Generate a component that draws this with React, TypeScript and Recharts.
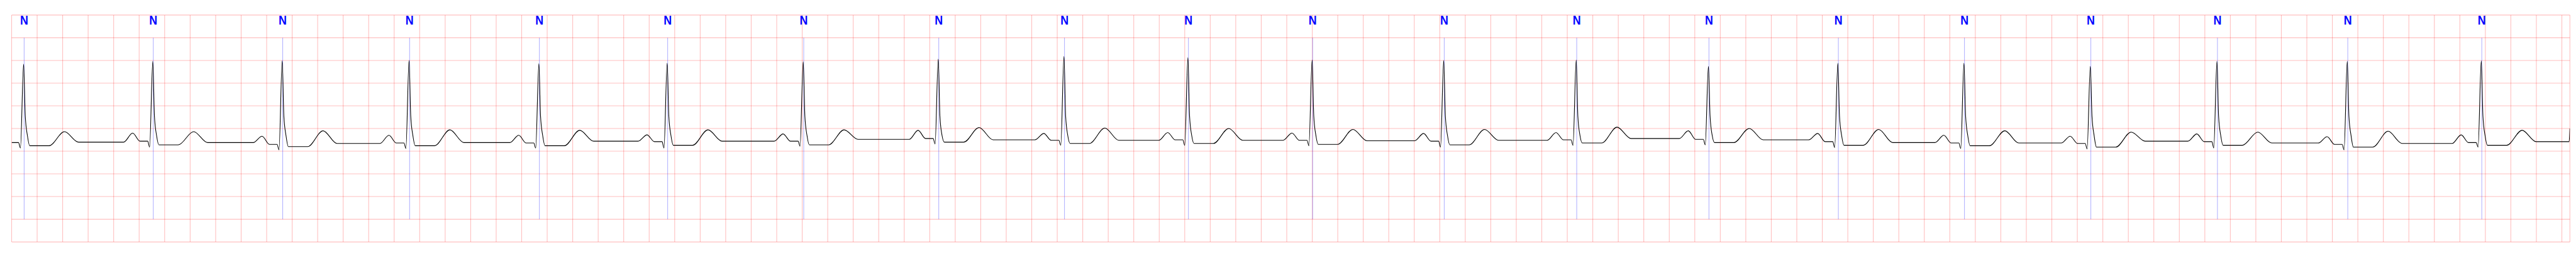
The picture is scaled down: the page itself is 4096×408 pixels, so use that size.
import {
  CartesianGrid,
  ComposedChart,
  Line,
  ReferenceLine,
  Scatter,
  XAxis,
  YAxis,
} from "recharts";

// beat annotations (seconds) and their symbols
const beatTimes = [
  0.098, 1.111, 2.126, 3.121, 4.139, 5.145, 6.212, 7.271, 8.257, 9.229,
  10.203, 11.235, 12.274, 13.311, 14.326, 15.315, 16.306, 17.299, 18.321, 19.372,
];
const beatSymbols = [
  "N", "N", "N", "N", "N", "N", "N", "N", "N", "N",
  "N", "N", "N", "N", "N", "N", "N", "N", "N", "N",
];

// per-beat levels (mV)
const rPeak = [1.42, 1.48, 1.49, 1.5, 1.43, 1.44, 1.47, 1.53, 1.59, 1.56, 1.51, 1.5, 1.51, 1.37, 1.44, 1.44, 1.37, 1.48, 1.48, 1.49];
const qDip = [-0.43, -0.41, -0.47, -0.44, -0.43, -0.43, -0.39, -0.34, -0.37, -0.37, -0.38, -0.41, -0.37, -0.36, -0.42, -0.44, -0.45, -0.43, -0.47, -0.41];
const stLevel = [-0.38, -0.36, -0.4, -0.38, -0.38, -0.37, -0.36, -0.3, -0.33, -0.33, -0.35, -0.36, -0.32, -0.31, -0.37, -0.38, -0.41, -0.37, -0.41, -0.37];
const tPeak = [-0.07, -0.07, -0.05, -0.03, -0.04, -0.03, -0.03, 0.02, 0.01, 0.0, -0.02, -0.02, 0.03, 0.0, -0.02, -0.05, -0.08, -0.08, -0.06, -0.04];
const isoLevel = [-0.3, -0.31, -0.33, -0.31, -0.28, -0.28, -0.24, -0.25, -0.26, -0.26, -0.27, -0.26, -0.22, -0.25, -0.31, -0.32, -0.28, -0.32, -0.33, -0.29];
const pPeak: (number | null)[] = [null, -0.1, -0.17, -0.15, -0.15, -0.14, -0.12, -0.04, -0.11, -0.09, -0.1, -0.11, -0.09, -0.05, -0.11, -0.15, -0.17, -0.12, -0.18, -0.14];
const preQLevel = [-0.31, -0.28, -0.35, -0.32, -0.32, -0.29, -0.28, -0.22, -0.26, -0.25, -0.26, -0.28, -0.25, -0.24, -0.29, -0.32, -0.33, -0.29, -0.35, -0.31];

// wave timing relative to the R peak (s), read from one beat
const waveOffsets = {
  r: -0.004,
  pOn: -0.228,
  pTop: -0.158,
  pEnd: -0.1,
  qOn: -0.04,
  q: -0.025,
  knee: 0.013,
  kneeLow: 0.03,
  j: 0.048,
  stEnd: 0.2,
  tTop: 0.32,
  tEnd: 0.43,
};
const kneeLevel = 0.27;
const kneeLowLevel = -0.16;

// last samples of the strip
const tailTimes = [20.057, 20.063];
const tailValues = [-0.29, 0.0];

const xTicks = Array.from({ length: 101 }, (_, i) => Math.round(i * 2) / 10);
const yTicks = [-2.5, -2, -1.5, -1, -0.5, 0, 0.5, 1, 1.5, 2];

function buildTrace() {
  const pts: { t: number; v: number }[] = [{ t: 0, v: preQLevel[0] }];
  beatTimes.forEach((ann, i) => {
    const r = ann + waveOffsets.r;
    const p = pPeak[i];
    if (p !== null) {
      pts.push(
        { t: r + waveOffsets.pOn, v: isoLevel[i - 1] },
        { t: r + waveOffsets.pTop, v: p },
        { t: r + waveOffsets.pEnd, v: preQLevel[i] }
      );
    }
    pts.push(
      { t: r + waveOffsets.qOn, v: preQLevel[i] },
      { t: r + waveOffsets.q, v: qDip[i] },
      { t: r, v: rPeak[i] },
      { t: r + waveOffsets.knee, v: kneeLevel },
      { t: r + waveOffsets.kneeLow, v: kneeLowLevel },
      { t: r + waveOffsets.j, v: stLevel[i] },
      { t: r + waveOffsets.stEnd, v: stLevel[i] },
      { t: r + waveOffsets.tTop, v: tPeak[i] },
      { t: r + waveOffsets.tEnd, v: isoLevel[i] }
    );
  });
  tailTimes.forEach((t, i) => pts.push({ t, v: tailValues[i] }));
  return pts;
}

const trace = buildTrace();
const LABEL_LEVEL = 2.296;
const labels = beatTimes.map((t, i) => ({ t, y: LABEL_LEVEL, sym: beatSymbols[i] }));

const BeatLabel = (props: any) => {
  const { cx, cy, payload } = props;
  return (
    <text
      transform={`translate(${cx},${cy}) scale(0.85,1)`}
      textAnchor="middle"
      fontFamily="'Liberation Sans', Arial, sans-serif"
      fontWeight="bold"
      fontSize={21}
      fill="#0000ff"
    >
      {payload.sym}
    </text>
  );
};

export default function App() {
  return (
    <div style={{ position: "fixed", left: 0, top: 0, background: "#fff" }}>
      <ComposedChart
        width={4096}
        height={408}
        margin={{ top: 23.9, right: 9.7, bottom: 23.9, left: 18.5 }}
      >
        <CartesianGrid
          stroke="rgba(255, 0, 0, 0.25)"
          strokeWidth={1.1}
        />
        <XAxis
          dataKey="t"
          type="number"
          domain={[0, 20.063]}
          ticks={xTicks}
          allowDataOverflow
          hide
        />
        <YAxis type="number" domain={[-2.5, 2.5]} ticks={yTicks} allowDataOverflow hide />
        {beatTimes.map((t) => (
          <ReferenceLine
            key={t}
            segment={[
              { x: t, y: -2 },
              { x: t, y: 2 },
            ]}
            stroke="#0000ff"
            strokeOpacity={0.55}
            strokeWidth={0.6}
          />
        ))}
        <Line
          data={trace}
          dataKey="v"
          type="monotone"
          stroke="#000"
          strokeWidth={1.1}
          dot={false}
          isAnimationActive={false}
        />
        <Scatter
          data={labels}
          dataKey="y"
          shape={BeatLabel}
          isAnimationActive={false}
        />
      </ComposedChart>
    </div>
  );
}
